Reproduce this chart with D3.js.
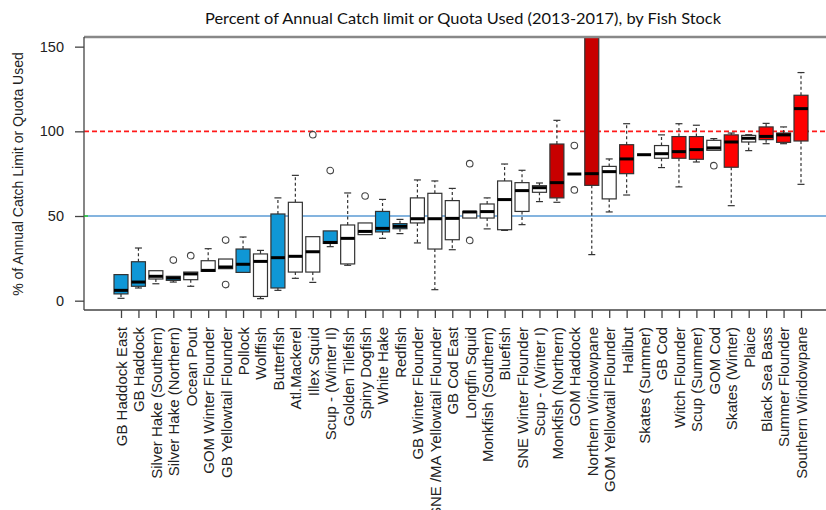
<!DOCTYPE html>
<html><head><meta charset="utf-8">
<script src="https://cdn.jsdelivr.net/npm/d3@7/dist/d3.min.js"></script>
<style>body{margin:0;background:#fff}svg{display:block}</style>
</head><body><svg id="c" width="826" height="510"></svg>
<script>
const stocks = ["GB Haddock East","GB Haddock","Silver Hake (Southern)","Silver Hake (Northern)","Ocean Pout","GOM Winter Flounder","GB Yellowtail Flounder","Pollock","Wolffish","Butterfish","Atl.Mackerel","Illex Squid","Scup - (Winter II)","Golden Tilefish","Spiny Dogfish","White Hake","Redfish","GB Winter Flounder","SNE /MA Yellowtail Flounder","GB Cod East","Longfin Squid","Monkfish (Southern)","Bluefish","SNE Winter Flounder","Scup - (Winter I)","Monkfish (Northern)","GOM Haddock","Northern Windowpane","GOM Yellowtail Flounder","Halibut","Skates (Summer)","GB Cod","Witch Flounder","Scup (Summer)","GOM Cod","Skates (Winter)","Plaice","Black Sea Bass","Summer Flounder","Southern Windowpane"];
const whiskerLow = [1.4,7.5,10.0,11.0,8.5,17.3,18.9,16.7,1.2,6.1,13.2,10.8,31.9,20.9,39.0,36.8,39.6,34.1,6.5,30.1,48.8,42.4,41.5,44.9,58.5,58.1,74.8,27.2,52.4,62.4,86.2,78.6,67.2,81.9,88.8,56.1,88.6,92.7,92.7,68.7];
const q1 = [4.0,8.5,12.8,12.0,12.4,17.3,18.9,16.7,2.5,7.5,16.9,16.9,33.8,21.7,39.0,40.6,42.5,45.9,30.5,36.0,48.8,48.8,41.9,52.7,64.0,60.7,74.8,68.1,60.1,75.0,86.2,84.1,84.1,83.5,88.8,78.8,93.7,95.1,93.5,94.3];
const medians = [6.1,11.0,14.4,13.4,15.8,17.9,19.9,21.5,23.2,25.4,26.2,28.9,34.4,36.8,40.9,42.7,43.9,48.4,48.4,48.6,52.4,52.6,59.7,65.0,66.7,69.7,74.8,75.0,76.2,83.7,86.2,86.8,88.0,89.2,90.2,93.7,95.9,97.0,97.9,113.4];
const q3 = [15.4,23.0,17.7,14.4,16.9,23.6,24.6,30.5,27.6,51.2,58.1,37.8,41.2,44.7,45.9,52.7,45.5,60.7,63.4,59.1,52.7,57.1,70.7,69.7,67.9,92.5,74.8,210,79.3,92.1,86.2,91.6,96.9,96.9,94.7,97.9,97.6,102.6,99.0,121.3];
const whiskerHigh = [15.4,31.1,17.7,14.4,16.9,30.7,24.6,37.6,29.7,60.7,74.0,37.8,41.2,63.6,45.9,59.8,48.0,71.3,70.7,66.3,52.7,60.7,80.7,77.0,69.5,106.5,74.8,210,83.7,104.5,86.2,97.9,104.5,103.6,95.7,99.0,98.0,104.7,102.6,134.7];
const outliers = [[],[],[],[24.0],[26.6],[],[35.8,9.5],[],[],[],[],[98.0],[76.8],[],[61.8],[],[],[],[],[],[80.9,35.6],[],[],[],[],[],[91.6,65.4],[],[],[],[],[],[],[],[79.7],[],[],[],[],[]];
const fillGroup = ["b","b","w","b","w","w","w","b","w","b","w","w","b","w","w","b","b","w","w","w","w","w","w","w","w","d","w","d","w","r","w","w","r","r","w","r","w","r","r","r"];
const yTicks = [0,50,100,150];
const refLines = [100,50];
const titleText = "Percent of Annual Catch limit or Quota Used (2013-2017), by Fish Stock";
const yTitle = "% of Annual Catch Limit or Quota Used";

const fills = {w:"#ffffff", b:"#0f97d6", r:"#ff0000", d:"#c80000"};
const svg = d3.select("#c");
const L = 84, R = 826, T = 37, B = 310;
const x = d3.scalePoint().domain(stocks).range([121, 801]);
const y = d3.scaleLinear().domain([-5.5, 155.7]).range([B, T]);
const bw = 14, cap = 7;

svg.append("defs").append("clipPath").attr("id","clip")
  .append("rect").attr("x",L).attr("y",T).attr("width",R-L).attr("height",B-T);

const pl = svg.append("g").attr("clip-path","url(#clip)");
pl.append("line").attr("x1",L).attr("x2",R).attr("y1",y(refLines[0])).attr("y2",y(refLines[0]))
  .attr("stroke","#ff1a1a").attr("stroke-width",1.6).attr("stroke-dasharray","5,3");
pl.append("line").attr("x1",L).attr("x2",R).attr("y1",y(refLines[1])).attr("y2",y(refLines[1]))
  .attr("stroke","#5b9bd5").attr("stroke-width",1.4);

const data = stocks.map((s,i)=>({s, lo:whiskerLow[i], q1:q1[i], med:medians[i], q3:q3[i], hi:whiskerHigh[i], out:outliers[i], f:fillGroup[i]}));
const g = pl.selectAll("g.box").data(data).join("g").attr("class","box")
  .attr("transform", d=>`translate(${x(d.s)},0)`);
g.filter(d=>d.hi>d.q3).append("line").attr("x1",0).attr("x2",0).attr("y1",d=>y(d.q3)).attr("y2",d=>y(d.hi))
  .attr("stroke","#333").attr("stroke-width",1.2).attr("stroke-dasharray","3,2.5");
g.filter(d=>d.lo<d.q1).append("line").attr("x1",0).attr("x2",0).attr("y1",d=>y(d.q1)).attr("y2",d=>y(d.lo))
  .attr("stroke","#333").attr("stroke-width",1.2).attr("stroke-dasharray","3,2.5");
g.filter(d=>d.hi>d.q3).append("line").attr("x1",-cap/2).attr("x2",cap/2).attr("y1",d=>y(d.hi)).attr("y2",d=>y(d.hi))
  .attr("stroke","#333").attr("stroke-width",1.2);
g.filter(d=>d.lo<d.q1).append("line").attr("x1",-cap/2).attr("x2",cap/2).attr("y1",d=>y(d.lo)).attr("y2",d=>y(d.lo))
  .attr("stroke","#333").attr("stroke-width",1.2);
g.filter(d=>d.q3>d.q1).append("rect").attr("x",-bw/2).attr("width",bw)
  .attr("y",d=>y(d.q3)).attr("height",d=>y(d.q1)-y(d.q3))
  .attr("fill",d=>fills[d.f]).attr("stroke","#333").attr("stroke-width",1.2);
g.append("line").attr("x1",-bw/2).attr("x2",bw/2).attr("y1",d=>y(d.med)).attr("y2",d=>y(d.med))
  .attr("stroke","#000").attr("stroke-width",3);
g.selectAll("circle").data(d=>d.out).join("circle").attr("cx",0).attr("cy",v=>y(v)).attr("r",3.3)
  .attr("fill","none").attr("stroke","#444").attr("stroke-width",1.1);

svg.append("line").attr("x1",L).attr("x2",R).attr("y1",T).attr("y2",T).attr("stroke","#888").attr("stroke-width",2.5);
svg.append("line").attr("x1",L).attr("x2",L).attr("y1",T).attr("y2",B).attr("stroke","#444").attr("stroke-width",1.3);
svg.append("line").attr("x1",L).attr("x2",R).attr("y1",B).attr("y2",B).attr("stroke","#444").attr("stroke-width",1.3);
svg.append("line").attr("x1",L).attr("x2",L+4).attr("y1",y(50)).attr("y2",y(50)).attr("stroke","#22cc22").attr("stroke-width",1.4);

const ya = svg.append("g").attr("transform",`translate(${L},0)`)
  .call(d3.axisLeft(y).tickValues(yTicks).tickSize(9).tickPadding(11));
ya.select(".domain").remove();
ya.selectAll("line").attr("stroke","#444").attr("stroke-width",1.3);
ya.selectAll("text").attr("font-family","'Liberation Sans', Arial, sans-serif").attr("font-size",14.5).attr("fill","#222");

const xa = svg.append("g").attr("transform",`translate(0,${B})`)
  .call(d3.axisBottom(x).tickSize(8).tickSizeOuter(0));
xa.select(".domain").remove();
xa.selectAll("line").attr("stroke","#444").attr("stroke-width",1.3);
xa.selectAll("text").attr("font-family","'Liberation Sans', Arial, sans-serif").attr("font-size",15).attr("fill","#222")
  .attr("transform","rotate(-90)").attr("text-anchor","end").attr("x",-17).attr("y",0).attr("dy","0.36em");

svg.append("text").attr("x",463).attr("y",24).attr("text-anchor","middle")
  .attr("font-family","Lato, 'Open Sans', sans-serif").attr("font-size",15).attr("fill","#111")
  .attr("textLength",516).attr("lengthAdjust","spacingAndGlyphs").text(titleText);
svg.append("text").attr("transform","translate(23,174) rotate(-90)").attr("text-anchor","middle")
  .attr("font-family","'Liberation Sans', Arial, sans-serif").attr("font-size",14).attr("fill","#222").text(yTitle);
</script></body></html>
